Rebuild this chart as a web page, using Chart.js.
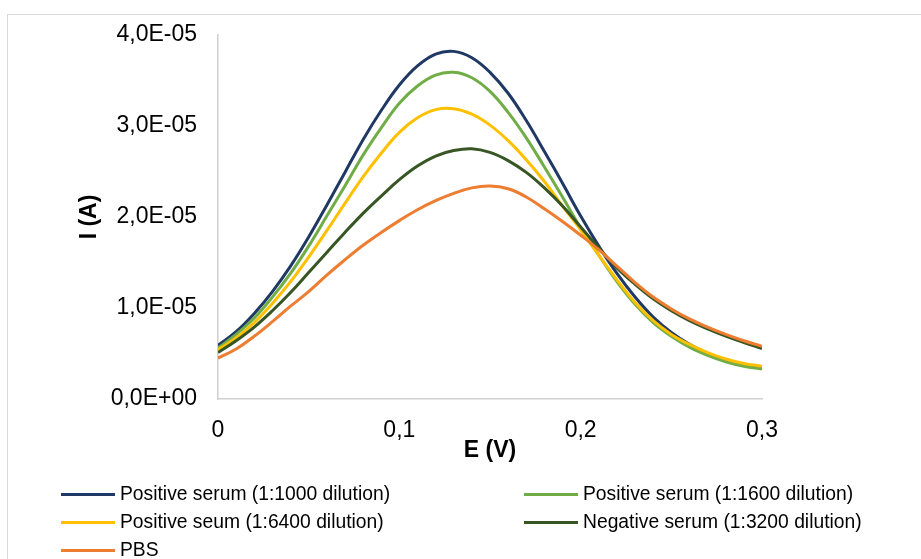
<!DOCTYPE html>
<html>
<head>
<meta charset="utf-8">
<script src="https://cdn.jsdelivr.net/npm/chart.js@4.4.0/dist/chart.umd.min.js"></script>
<style>
  html, body { margin: 0; padding: 0; background: #fff; overflow: hidden; }
  #wrap { position: relative; width: 921px; height: 559px; overflow: hidden; }
  #frame { position: absolute; left: 7px; top: 14px; width: 960px; height: 600px; border: 1px solid #d9d9d9; }
  #chart { position: absolute; left: 0; top: 0; }
  #legend { position: absolute; left: 0; top: 0; font-family: 'Liberation Sans', Arial, sans-serif; font-size: 19.3px; color: #000; }
  .item { position: absolute; height: 24px; display: flex; align-items: center; white-space: nowrap; }
  .swatch { width: 54px; height: 3px; margin-right: 5px; }
</style>
</head>
<body>
<div id="wrap">
  <div id="frame"></div>
  <canvas id="chart" width="921" height="559"></canvas>
  <div id="legend"></div>
</div>
<script>
// E (V)
const potentials = [0, 0.01, 0.02, 0.03, 0.04, 0.05, 0.06, 0.07, 0.08, 0.09, 0.10,
  0.11, 0.12, 0.13, 0.14, 0.15, 0.16, 0.17, 0.18, 0.19, 0.20,
  0.21, 0.22, 0.23, 0.24, 0.25, 0.26, 0.27, 0.28, 0.29, 0.30];

// currents, in units of 1E-05 A
const pos1000 = [0.59, 0.74, 0.94, 1.18, 1.46, 1.78, 2.13, 2.49, 2.85, 3.17, 3.45,
  3.66, 3.79, 3.82, 3.75, 3.59, 3.36, 3.06, 2.72, 2.37, 2.01,
  1.68, 1.38, 1.12, 0.90, 0.73, 0.60, 0.50, 0.43, 0.38, 0.35];
const pos1600 = [0.56, 0.71, 0.89, 1.12, 1.38, 1.68, 2.01, 2.34, 2.68, 2.98, 3.25,
  3.44, 3.56, 3.59, 3.53, 3.38, 3.15, 2.87, 2.55, 2.22, 1.88,
  1.58, 1.29, 1.04, 0.84, 0.69, 0.57, 0.48, 0.41, 0.36, 0.33];
const pos6400 = [0.54, 0.67, 0.84, 1.05, 1.29, 1.56, 1.85, 2.15, 2.44, 2.70, 2.93,
  3.09, 3.18, 3.19, 3.13, 3.01, 2.84, 2.63, 2.39, 2.12, 1.86,
  1.58, 1.31, 1.06, 0.86, 0.71, 0.60, 0.51, 0.44, 0.39, 0.36];
const neg3200 = [0.51, 0.64, 0.79, 0.97, 1.17, 1.39, 1.61, 1.83, 2.04, 2.23, 2.41,
  2.56, 2.67, 2.73, 2.75, 2.71, 2.62, 2.49, 2.32, 2.12, 1.89,
  1.66, 1.44, 1.26, 1.10, 0.97, 0.86, 0.77, 0.69, 0.62, 0.555];
const pbs = [0.45, 0.55, 0.69, 0.85, 1.02, 1.18, 1.36, 1.53, 1.69, 1.83, 1.96,
  2.08, 2.18, 2.26, 2.32, 2.34, 2.31, 2.22, 2.09, 1.95, 1.80,
  1.64, 1.46, 1.28, 1.12, 0.99, 0.88, 0.79, 0.71, 0.64, 0.58];

const seriesNames = [
  'Positive serum (1:1000 dilution)',
  'Positive serum (1:1600 dilution)',
  'Positive seum (1:6400 dilution)',
  'Negative serum (1:3200 dilution)',
  'PBS'
];
const seriesData = [pos1000, pos1600, pos6400, neg3200, pbs];
const seriesColors = ['#1f3864', '#70ad47', '#ffc000', '#375623', '#ed7d31'];

const UNIT = 1e-5;
const FONT = "'Liberation Sans', Arial, sans-serif";

function sciLabel(v) {
  if (Math.abs(v) < 1e-12) return '0,0E+00';
  const [m, e] = v.toExponential(1).split('e');
  const n = parseInt(e, 10);
  const exp = (n < 0 ? '-' : '+') + String(Math.abs(n)).padStart(2, '0');
  return m.replace('.', ',') + 'E' + exp;
}

const datasets = seriesNames.map((name, i) => ({
  label: name,
  data: potentials.map((x, j) => ({ x: x, y: seriesData[i][j] * UNIT })),
  borderColor: seriesColors[i],
  backgroundColor: seriesColors[i],
  borderWidth: 3,
  pointRadius: 0,
  tension: 0.4,
  fill: false,
  order: seriesNames.length - i
}));

new Chart(document.getElementById('chart').getContext('2d'), {
  type: 'line',
  data: { datasets },
  options: {
    responsive: false,
    animation: false,
    layout: { padding: { left: 0, top: 35, right: 159, bottom: 80 } },
    plugins: { legend: { display: false }, tooltip: { enabled: false } },
    scales: {
      x: {
        type: 'linear',
        min: 0,
        max: 0.3,
        grid: { display: false, drawTicks: false },
        border: { display: true, color: '#d0d0d0', width: 1.5 },
        ticks: {
          stepSize: 0.1,
          padding: 18,
          color: '#000',
          font: { family: FONT, size: 23 },
          callback: v => (Math.abs(v) < 1e-9 ? '0' : v.toFixed(1).replace('.', ','))
        },
        title: {
          display: true,
          text: 'E (V)',
          color: '#000',
          font: { family: FONT, size: 23, weight: 'bold' },
          padding: { top: 0, bottom: 15 }
        },
        afterFit: s => { s.height = 80; }
      },
      y: {
        min: 0,
        max: 4e-5,
        grid: { display: false, drawTicks: false },
        border: { display: true, color: '#d0d0d0', width: 1.5 },
        ticks: {
          stepSize: 1e-5,
          padding: 21,
          color: '#000',
          font: { family: FONT, size: 23 },
          callback: v => sciLabel(v)
        },
        title: {
          display: true,
          text: 'I (A)',
          color: '#000',
          font: { family: FONT, size: 23, weight: 'bold' },
          padding: { top: 76, bottom: 0 }
        },
        afterFit: s => { s.width = 218; }
      }
    }
  }
});

// legend in two columns, like the original
const legendCols = [61, 524];
const legendRows = [494, 522, 550];
const legendEl = document.getElementById('legend');
seriesNames.forEach((name, i) => {
  const item = document.createElement('div');
  item.className = 'item';
  item.style.left = legendCols[i % 2] + 'px';
  item.style.top = (legendRows[Math.floor(i / 2)] - 12) + 'px';
  const sw = document.createElement('span');
  sw.className = 'swatch';
  sw.style.background = seriesColors[i];
  const label = document.createElement('span');
  label.textContent = name;
  item.appendChild(sw);
  item.appendChild(label);
  legendEl.appendChild(item);
});
</script>
</body>
</html>
